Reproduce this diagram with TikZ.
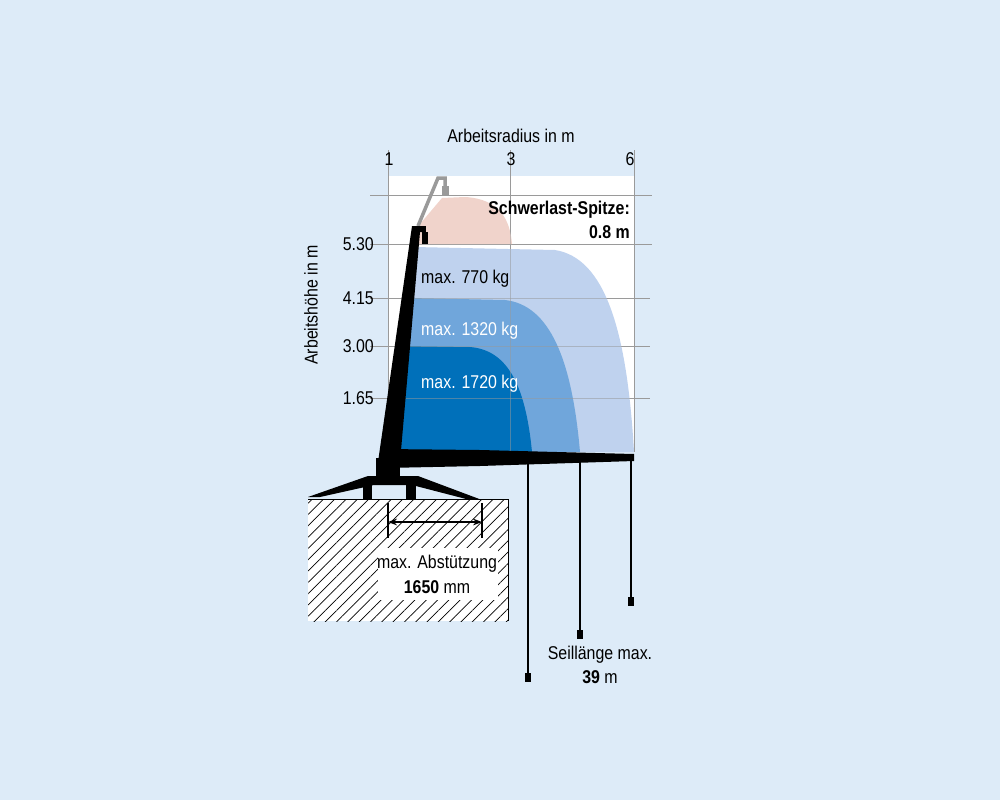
\documentclass[tikz,border=0pt]{standalone}
\usepackage{fontspec}
\setmainfont[FakeStretch=0.86]{Liberation Sans}
\usetikzlibrary{patterns.meta,arrows.meta}
\definecolor{bg}{HTML}{DDEBF8}
\definecolor{pinkz}{HTML}{F0D3CB}
\definecolor{lblue}{HTML}{BCD0EE}
\definecolor{mblue}{HTML}{6CA4DA}
\definecolor{dblue}{HTML}{0070BA}
\definecolor{gridc}{HTML}{9A9A9A}
\begin{document}
\begin{tikzpicture}[x=1pt,y=-1pt,
  lab/.style={font=\fontsize{18.5}{22}\selectfont,inner sep=0pt},
  gridl/.style={draw=gridc,line width=0.7pt},
  rope/.style={line width=1.6pt},
  weight/.style={fill=black}]
\fill[bg] (0,0) rectangle (1000,800);
\useasboundingbox (0,0) rectangle (1000,800);
\fill[white] (388,176) rectangle (634,452);
% grid
\foreach \x in {388,510,634} \draw[gridl] (\x,150) -- (\x,452);
\draw[gridl] (370,195) -- (652,195);
\draw[gridl] (370,244) -- (652,244);
\foreach \y in {298,346,398} \draw[gridl] (370,\y) -- (650,\y);
% zones
\fill[pinkz] (414,244) -- (420,224) -- (442,198) -- (465,197) .. controls (500,199) and (510,220) .. (512,244) -- cycle;
\fill[lblue,opacity=0.95] (398,452) -- (414,247) -- (555,250) .. controls (605,258) and (627,330) .. (634,452) -- cycle;
\fill[mblue,opacity=0.95] (398,452) -- (410,298) -- (505,300) .. controls (550,305) and (572,360) .. (580,452) -- cycle;
\fill[dblue] (398,452) -- (405,346) -- (470,347) .. controls (505,350) and (525,380) .. (532,452) -- cycle;
\foreach \x in {510,634} \draw[gridc,opacity=0.5,line width=0.7pt] (\x,195) -- (\x,452);
\foreach \y in {298,346,398} \draw[gridc,opacity=0.5,line width=0.7pt] (405,\y) -- (650,\y);
% labels
\node[lab] (t1) at (389,159) {1};
\node[lab] (t3) at (511,159) {3};
\node[lab] (t6) at (630,159) {6};
\node[lab] (xr) at (511,136) {Arbeitsradius in m};
\node[lab,anchor=east] (y1) at (374,244) {5.30};
\node[lab,anchor=east] (y2) at (374,298) {4.15};
\node[lab,anchor=east] (y3) at (374,346) {3.00};
\node[lab,anchor=east] (y4) at (374,398) {1.65};
\node[lab,rotate=90] (yl) at (311,305) {Arbeitshöhe in m};
\node[lab,anchor=east] (s1) at (630,210) {\bfseries Schwerlast-Spitze:};
\node[lab,anchor=east] (s2) at (630,232) {\bfseries 0.8 m};
\node[lab,anchor=west] (k1) at (421,279) {max. 770 kg};
\node[lab,anchor=west,text=white] (k2) at (421,331) {max. 1320 kg};
\node[lab,anchor=west,text=white] (k3) at (421,384) {max. 1720 kg};
% grey jib
\draw[gridc,line width=3.5pt] (418,226) -- (438,178) -- (445,178) -- (445,188);
\fill[gridc] (442,186) rectangle (449,195);
% boom
\fill (378,462) -- (412,226) -- (424,226) -- (424,232) -- (420,232) -- (400,462) -- cycle;
\fill (422,226) rectangle (426,232);
\fill (422,232) rectangle (428,244);
% horizontal boom
\fill (385,449) -- (480,450) -- (634,454) -- (634,461) -- (480,466) -- (385,468) -- cycle;
% turret and outriggers
\fill (376,458) rectangle (400,478);
\fill (308,497) -- (368,476) -- (418,476) -- (482,500) -- (470,500) -- (412,485) -- (374,485) -- (320,497) -- cycle;
\fill (363,480) rectangle (372,499);
\fill (406,480) rectangle (416,499);
% ground
\fill[white] (308,499) rectangle (508,621);
\fill[pattern={Lines[angle=45,distance=8pt,line width=0.7pt]}] (308,499) rectangle (508,621);
\draw[line width=0.8pt] (308,499) -- (508,499) -- (508,621);
\fill[white] (378,548) rectangle (498,600);
\draw[line width=1.3pt] (388,503) -- (388,538);
\draw[line width=1.3pt] (482,503) -- (482,538);
\coordinate (da) at (388,522);
\coordinate (db) at (482,522);
\draw[line width=1.3pt,{Stealth[length=9pt]}-{Stealth[length=9pt]}] (da) -- (db);
\node[lab] (a1) at (437,564) {max. Abstützung};
\node[lab] (a2) at (437,587) {\bfseries 1650 \mdseries mm};
% ropes
\draw[rope] (528,462) -- (528,676);
\fill (525,673) rectangle (531,682);
\draw[rope] (580,462) -- (580,632);
\fill (577,630) rectangle (583,639);
\draw[rope] (631,460) -- (631,598);
\fill (628,597) rectangle (634,606);
\node[lab] (r1) at (600,655) {Seillänge max.};
\node[lab] (r2) at (600,677) {\bfseries 39 \mdseries m};
\end{tikzpicture}
\end{document}
